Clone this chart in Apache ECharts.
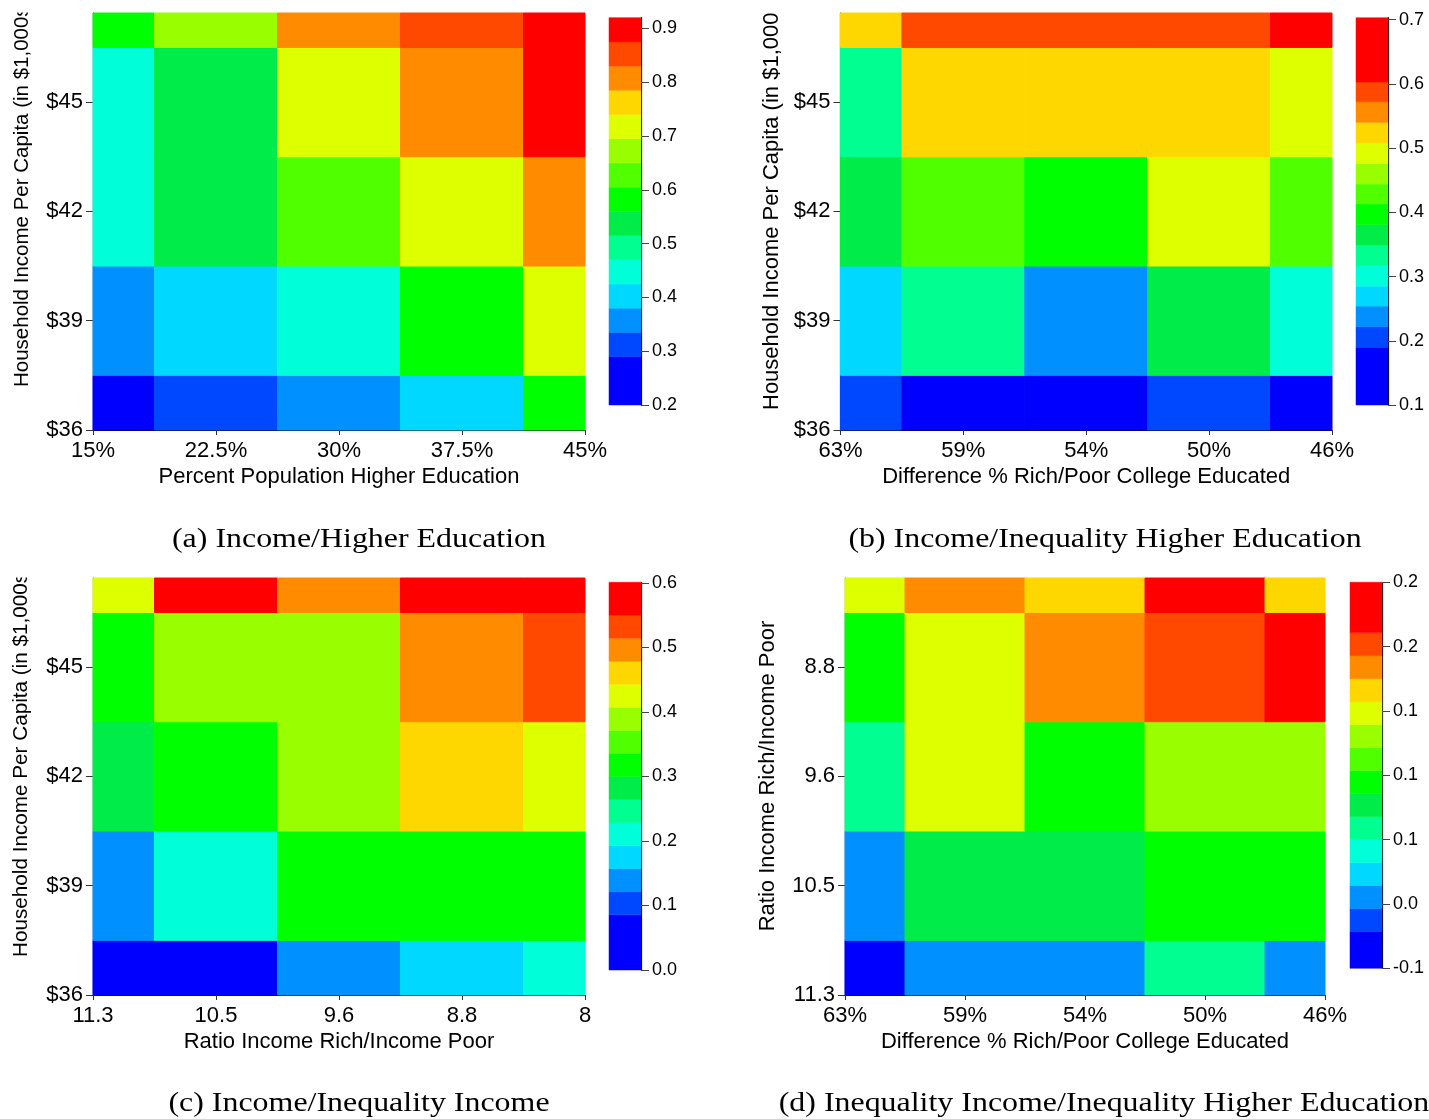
<!DOCTYPE html>
<html><head><meta charset="utf-8">
<script src="https://cdn.jsdelivr.net/npm/echarts@6/dist/echarts.min.js"></script>
<style>html,body{margin:0;padding:0;background:#fff}#c{width:1429px;height:1119px}</style>
</head><body><div id="c"></div><script>
// ---- palette (low -> high) ----
const palette = ['#0000FF','#0048FF','#0090FF','#00D8FF','#00FFD8','#00FF90','#00EC48','#00FF00',
                 '#50FF00','#99FF00','#DDFF00','#FFD700','#FF8C00','#FF4800','#FF0000'];

// ---- tick labels ----
const incomeLabels = ['$36','$39','$42','$45'];
const eduLabels = ['15%','22.5%','30%','37.5%','45%'];
const diffLabels = ['63%','59%','54%','50%','46%'];
const ratioXLabels = ['11.3','10.5','9.6','8.8','8'];
const ratioYLabels = ['11.3','10.5','9.6','8.8'];

// ---- cell values: rows from bottom (first y tick) to top; columns left -> right ----
const valuesA = [
  [0.24, 0.31, 0.36, 0.40, 0.58],
  [0.36, 0.40, 0.45, 0.58, 0.72],
  [0.45, 0.54, 0.63, 0.72, 0.81],
  [0.45, 0.54, 0.72, 0.81, 0.90],
  [0.58, 0.67, 0.81, 0.85, 0.90]
];
const valuesB = [
  [0.21, 0.17, 0.17, 0.21, 0.17],
  [0.27, 0.33, 0.24, 0.36, 0.30],
  [0.36, 0.43, 0.40, 0.49, 0.43],
  [0.33, 0.52, 0.52, 0.52, 0.49],
  [0.52, 0.59, 0.59, 0.59, 0.63]
];
const valuesC = [
  [0.04, 0.04, 0.14, 0.17, 0.21],
  [0.14, 0.21, 0.32, 0.32, 0.32],
  [0.28, 0.32, 0.39, 0.46, 0.42],
  [0.32, 0.39, 0.39, 0.50, 0.53],
  [0.42, 0.58, 0.50, 0.58, 0.58]
];
const valuesD = [
  [-0.04, 0.005, 0.005, 0.06, 0.005],
  [0.005, 0.077, 0.077, 0.095, 0.095],
  [0.06, 0.148, 0.095, 0.13, 0.13],
  [0.095, 0.148, 0.184, 0.202, 0.23],
  [0.148, 0.184, 0.166, 0.23, 0.166]
];

// ---- colour level boundaries (16 values -> 15 bands) ----
const levelsA = [0.2, 0.29, 0.335, 0.38, 0.425, 0.47, 0.515, 0.56, 0.605, 0.65, 0.695, 0.74, 0.785, 0.83, 0.875, 0.92];
const levelsB = [0.1, 0.19, 0.222, 0.254, 0.285, 0.317, 0.349, 0.381, 0.413, 0.444, 0.476, 0.508, 0.540, 0.572, 0.603, 0.703];
const levelsC = [0, 0.0857, 0.1214, 0.1571, 0.1929, 0.2286, 0.2643, 0.3, 0.3357, 0.3714, 0.4071, 0.4429, 0.4786, 0.5143, 0.55, 0.601];
const levelsD = [-0.05, -0.0214, -0.0036, 0.0143, 0.0321, 0.05, 0.0679, 0.0857, 0.1036, 0.1214, 0.1393, 0.1571, 0.175, 0.1929, 0.2107, 0.25];

// ---- colour bar ticks ----
const cbTicksA = [0.2, 0.3, 0.4, 0.5, 0.6, 0.7, 0.8, 0.9];
const cbLabelsA = ['0.2','0.3','0.4','0.5','0.6','0.7','0.8','0.9'];
const cbTicksB = [0.1, 0.2, 0.3, 0.4, 0.5, 0.6, 0.7];
const cbLabelsB = ['0.1','0.2','0.3','0.4','0.5','0.6','0.7'];
const cbTicksC = [0, 0.1, 0.2, 0.3, 0.4, 0.5, 0.6];
const cbLabelsC = ['0.0','0.1','0.2','0.3','0.4','0.5','0.6'];
const cbTicksD = [-0.05, 0, 0.05, 0.1, 0.15, 0.2, 0.25];
const cbLabelsD = ['-0.1','0.0','0.1','0.1','0.1','0.2','0.2'];

// ---- titles ----
const xNames = ['Percent Population Higher Education','Difference % Rich/Poor College Educated',
                'Ratio Income Rich/Income Poor','Difference % Rich/Poor College Educated'];
const yNames = ['Household Income Per Capita (in $1,000s)','Household Income Per Capita (in $1,000s)',
                'Household Income Per Capita (in $1,000s)','Ratio Income Rich/Income Poor'];
const captions = ['(a) Income/Higher Education','(b) Income/Inequality Higher Education',
                  '(c) Income/Inequality Income','(d) Inequality Income/Inequality Higher Education'];

const SANS = "'Liberation Sans', Arial, Helvetica, sans-serif";
const SERIF = "'Liberation Serif', 'Times New Roman', serif";
const Y_MAX = 3.815;

const panels = [
  {vals: valuesA, lv: levelsA, xl: eduLabels, yl: incomeLabels, cbT: cbTicksA, cbL: cbLabelsA,
   grid: {left: 93, top: 13, width: 492, height: 417}, cb: {left: 609, top: 17.7, width: 32, height: 387.3}},
  {vals: valuesB, lv: levelsB, xl: diffLabels, yl: incomeLabels, cbT: cbTicksB, cbL: cbLabelsB,
   grid: {left: 840.5, top: 13, width: 491.5, height: 417}, cb: {left: 1356, top: 17.7, width: 32, height: 387.3}},
  {vals: valuesC, lv: levelsC, xl: ratioXLabels, yl: incomeLabels, cbT: cbTicksC, cbL: cbLabelsC,
   grid: {left: 93, top: 578, width: 492, height: 417}, cb: {left: 609, top: 582.3, width: 32, height: 387.7}},
  {vals: valuesD, lv: levelsD, xl: diffLabels, yl: ratioYLabels, cbT: cbTicksD, cbL: cbLabelsD,
   grid: {left: 845, top: 578, width: 480, height: 417}, cb: {left: 1350, top: 582.3, width: 32, height: 386}}
];

function colorOf(levels, v) {
  for (let k = 0; k < palette.length; k++) if (v < levels[k + 1]) return palette[k];
  return palette[palette.length - 1];
}

const grids = [], xAxes = [], yAxes = [], series = [];
panels.forEach((p, idx) => {
  const gi = idx * 2, ci = idx * 2 + 1;
  grids.push(Object.assign({outerBoundsMode: 'none', containLabel: false}, p.grid));
  grids.push(Object.assign({outerBoundsMode: 'none', containLabel: false}, p.cb));
  const xl = p.xl, yl = p.yl;
  xAxes.push({
    gridIndex: gi, type: 'value', min: 0, max: 4,
    axisLine: {show: true, onZero: false, lineStyle: {color: '#000', width: 1.2}},
    axisTick: {show: true, length: 5, customValues: [0,1,2,3,4], lineStyle: {color: '#333', width: 1}},
    axisLabel: {customValues: [0,1,2,3,4], formatter: v => xl[Math.round(v)], fontSize: 22, color: '#000',
                fontFamily: SANS, margin: 10, showMinLabel: true, showMaxLabel: true},
    splitLine: {show: false},
    name: xNames[idx], nameLocation: 'middle', nameGap: 36,
    nameTextStyle: {fontSize: 22, color: '#000', fontFamily: SANS}
  });
  yAxes.push({
    gridIndex: gi, type: 'value', min: 0, max: Y_MAX,
    axisLine: {show: true, onZero: false, lineStyle: {color: '#000', width: 1.2}},
    axisTick: {show: true, length: 7, customValues: [0,1,2,3], lineStyle: {color: '#333', width: 1}},
    axisLabel: {customValues: [0,1,2,3], formatter: v => yl[Math.round(v)], fontSize: 22, color: '#000',
                fontFamily: SANS, margin: 10, showMinLabel: true},
    splitLine: {show: false}
  });
  // colour bar axes
  const cbT = p.cbT, cbL = p.cbL;
  xAxes.push({gridIndex: ci, type: 'value', min: 0, max: 1, show: false});
  yAxes.push({
    gridIndex: ci, type: 'value', position: 'right', min: p.lv[0], max: p.lv[p.lv.length - 1],
    axisLine: {show: true, onZero: false, lineStyle: {color: '#000', width: 1.2}},
    axisTick: {show: true, length: 8, customValues: cbT, lineStyle: {color: '#444', width: 1}},
    axisLabel: {customValues: cbT, fontSize: 18, color: '#000', fontFamily: SANS, margin: 11,
      formatter: v => { let b = 0; cbT.forEach((t, k) => { if (Math.abs(t - v) < Math.abs(cbT[b] - v)) b = k; }); return cbL[b]; }},
    splitLine: {show: false}
  });

  const data = [];
  p.vals.forEach((row, j) => row.forEach((v, i) => data.push([i, j, v])));
  const lv = p.lv;
  series.push({
    type: 'custom', xAxisIndex: gi, yAxisIndex: gi, data: data, silent: true,
    renderItem: (params, api) => {
      const i = api.value(0), j = api.value(1), v = api.value(2);
      const a = api.coord([i - 0.5, j - 0.5]), b = api.coord([i + 0.5, j + 0.5]);
      const rect = echarts.graphic.clipRectByRect(
        {x: a[0], y: b[1], width: b[0] - a[0], height: a[1] - b[1]}, params.coordSys);
      if (!rect) return;
      const c = colorOf(lv, v);
      return {type: 'rect', shape: rect, style: {fill: c, stroke: c, lineWidth: 1}};
    }
  });
  const bands = [];
  for (let k = 0; k < palette.length; k++) bands.push([k, lv[k], lv[k + 1]]);
  series.push({
    type: 'custom', xAxisIndex: ci, yAxisIndex: ci, data: bands, silent: true,
    renderItem: (params, api) => {
      const k = api.value(0);
      const a = api.coord([0, api.value(1)]), b = api.coord([1, api.value(2)]);
      return {type: 'rect', shape: {x: a[0], y: b[1], width: b[0] - a[0], height: a[1] - b[1]},
              style: {fill: palette[k], stroke: palette[k], lineWidth: 0.5}};
    }
  });
});

const yNamePos = [
  {x: 22.7, y: 387, size: 20.5, align: 'left'},
  {x: 771.7, y: 410, size: 22, align: 'left'},
  {x: 21.7, y: 957, size: 20.7, align: 'left'},
  {x: 768.3, y: 776, size: 22, align: 'center'}
];
const capPos = [{x: 359, y: 540}, {x: 1105, y: 540}, {x: 359, y: 1104}, {x: 1104, y: 1104}];

const graphics = [];
yNames.forEach((t, i) => {
  const q = yNamePos[i];
  graphics.push({type: 'text', x: q.x, y: q.y, rotation: Math.PI / 2, z: 50,
    style: {text: t, fontSize: q.size, fontFamily: SANS, fill: '#000', align: q.align, verticalAlign: 'middle'}});
});
// clip the overflowing axis titles at the top of their plots
graphics.push({type: 'rect', z: 60, shape: {x: 0, y: 0, width: 90, height: 12.5}, style: {fill: '#fff'}});
graphics.push({type: 'rect', z: 60, shape: {x: 745, y: 0, width: 93, height: 12.5}, style: {fill: '#fff'}});
graphics.push({type: 'rect', z: 60, shape: {x: 0, y: 545, width: 90, height: 32.5}, style: {fill: '#fff'}});
captions.forEach((t, i) => {
  const q = capPos[i];
  graphics.push({type: 'text', x: q.x, y: q.y, scaleX: 1.14, z: 50,
    style: {text: t, fontSize: 28, fontFamily: SERIF, fill: '#000', align: 'center', verticalAlign: 'middle'}});
});

const chart = echarts.init(document.getElementById('c'), null, {renderer: 'canvas'});
chart.setOption({
  animation: false,
  backgroundColor: '#fff',
  grid: grids, xAxis: xAxes, yAxis: yAxes, series: series,
  graphic: graphics
});
</script></body></html>
